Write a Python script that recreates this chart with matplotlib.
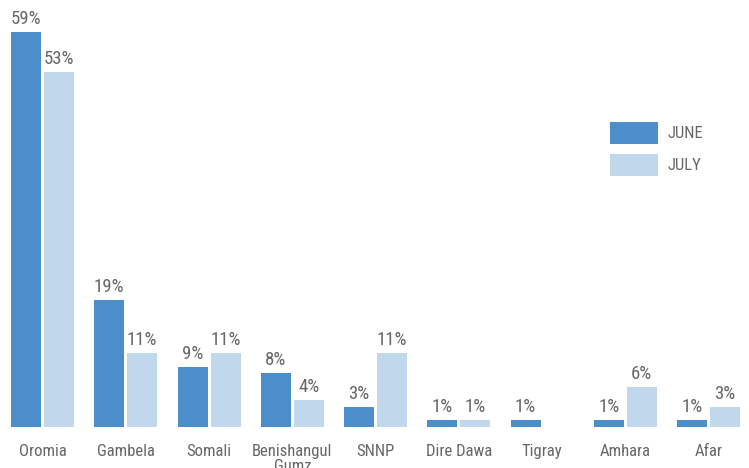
import matplotlib
matplotlib.use("Agg")
import matplotlib.pyplot as plt
import numpy as np

categories = ["Oromia", "Gambela", "Somali", "Benishangul\nGumz", "SNNP",
              "Dire Dawa", "Tigray", "Amhara", "Afar"]
june = [59, 19, 9, 8, 3, 1, 1, 1, 1]
july = [53, 11, 11, 4, 11, 1, 0, 6, 3]
series_names = ["JUNE", "JULY"]

june_color = "#4c8dcb"
july_color = "#c1d7ec"
text_color = "#666666"

plt.rcParams['font.family'] = ['Roboto Condensed', 'Roboto', 'DejaVu Sans']

W, H = 749, 468
fig = plt.figure(figsize=(W / 100, H / 100), dpi=100)
px_per_unit = 395 / 59
ylim_top = 63
ax = fig.add_axes([0, 41 / H, 1, ylim_top * px_per_unit / H])
ax.set_ylim(0, ylim_top)
spacing = 83.25
ax.set_xlim(-42.5 / spacing, (W - 42.5) / spacing)

x = np.arange(len(categories))
bw = 30 / spacing
off = 16.5 / spacing
b1 = ax.bar(x - off, june, width=bw, color=june_color, label=series_names[0])
b2 = ax.bar(x + off, july, width=bw, color=july_color, label=series_names[1])

for rects, vals in ((b1, june), (b2, july)):
    for r, v in zip(rects, vals):
        if v <= 0:
            continue
        ax.annotate(f"{v}%", (r.get_x() + r.get_width() / 2, v),
                    xytext=(0, 3), textcoords="offset points",
                    ha="center", va="bottom", fontsize=13.5, color=text_color)

for i, c in enumerate(categories):
    ax.text(i, -2.5, c, ha="center", va="top", fontsize=12, color=text_color,
            linespacing=1.05, clip_on=False)

for s in ax.spines.values():
    s.set_visible(False)
ax.set_xticks([])
ax.set_yticks([])

fs = 12
fpx = fs * 100 / 72
hh = (22 / fpx - 0.245) / 0.65
leg = ax.legend(loc="upper left", bbox_to_anchor=(610 / W, 1 - 122 / H),
                bbox_transform=fig.transFigure, frameon=False, borderpad=0,
                borderaxespad=0, fontsize=fs, handlelength=48 / fpx,
                handleheight=hh, labelspacing=(32 - 22) / fpx,
                handletextpad=10 / fpx)
for t in leg.get_texts():
    t.set_color(text_color)

fig.savefig("out.png", dpi=100)
